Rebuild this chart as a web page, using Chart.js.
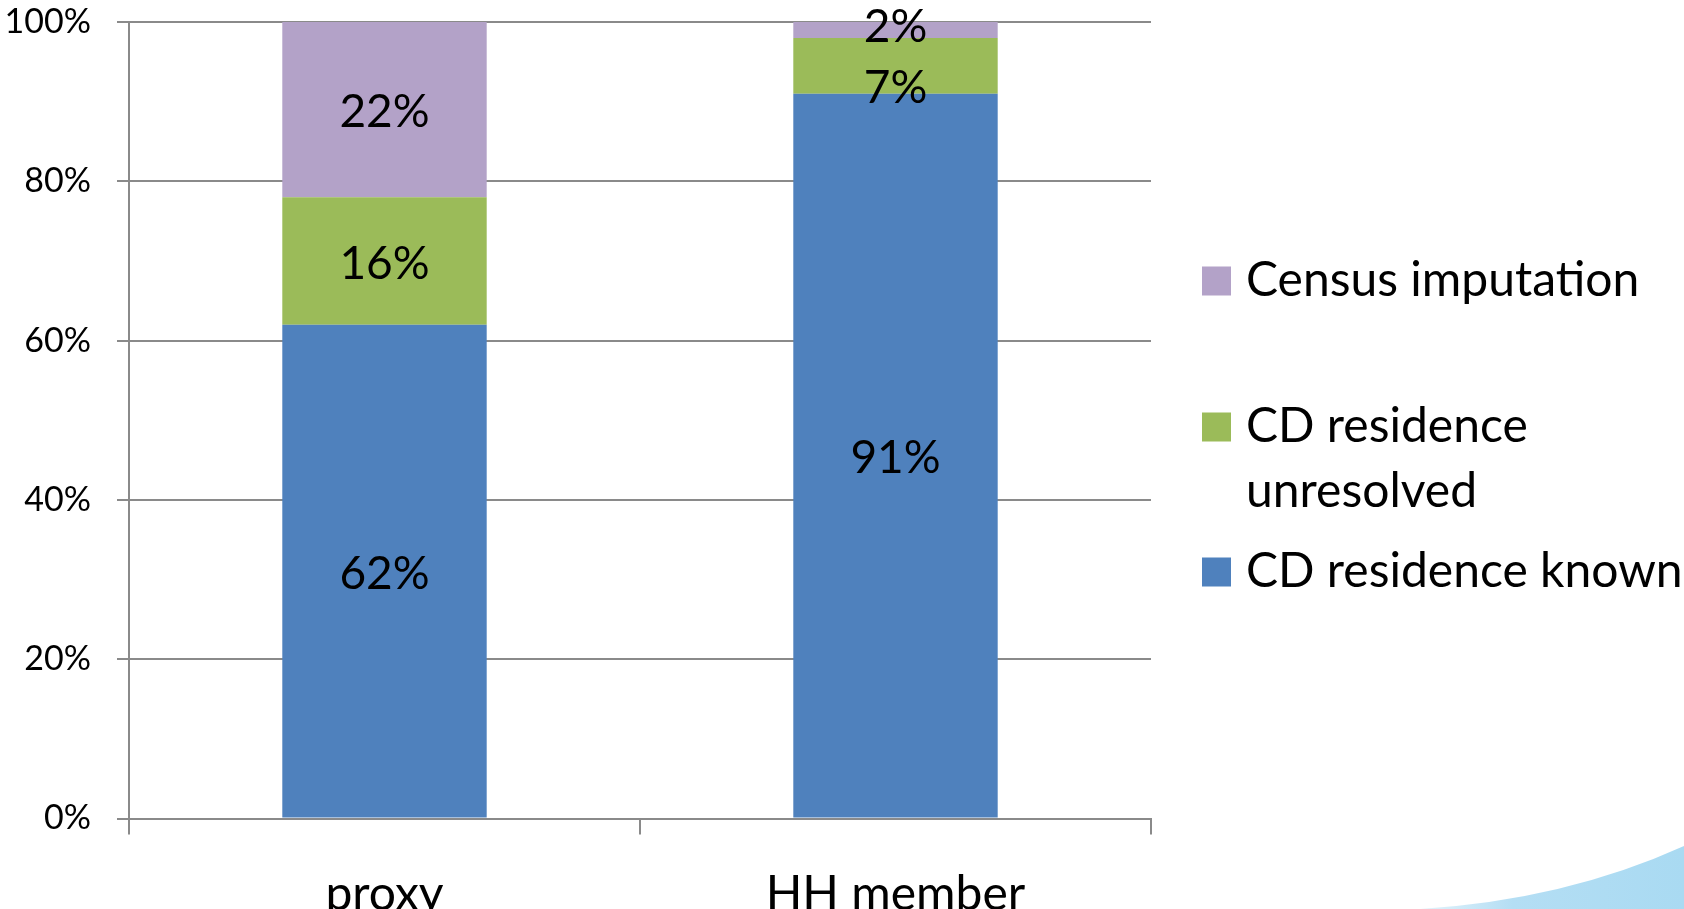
<!DOCTYPE html>
<html>
<head>
<meta charset="utf-8">
<title>CD residence by respondent type</title>
<script src="https://cdn.jsdelivr.net/npm/chart.js@4.4.1/dist/chart.umd.min.js"></script>
<style>
  html, body { margin: 0; padding: 0; background: #ffffff; }
  #wrap { width: 1684px; height: 909px; overflow: hidden; }
</style>
</head>
<body>
<div id="wrap"><canvas id="chart" width="1684" height="909"></canvas></div>
<script>
// Datos del gráfico
const categories = ['proxy', 'HH member'];
const seriesNames = ['CD residence known', 'CD residence unresolved', 'Census imputation'];
const knownValues = [62, 91];
const unresolvedValues = [16, 7];
const imputationValues = [22, 2];
const yTicks = [0, 20, 40, 60, 80, 100];

const colors = ['#4F81BD', '#9BBB59', '#B3A2C8'];
const FONT = 'Lato, "Open Sans", "Liberation Sans", sans-serif';
const gridColor = '#8a8a8a';

// Etiquetas de datos centradas en cada segmento (separadas si se solapan)
const dataLabels = {
    id: 'dataLabels',
    afterDatasetsDraw(chart) {
        const ctx = chart.ctx;
        const minGap = 61;
        ctx.save();
        ctx.font = '46px ' + FONT;
        ctx.fillStyle = '#000000';
        ctx.textAlign = 'center';
        ctx.textBaseline = 'middle';
        const nCat = chart.data.labels.length;
        for (let j = 0; j < nCat; j++) {
            // recoger etiquetas de esta columna, de arriba hacia abajo
            const items = [];
            chart.data.datasets.forEach((ds, i) => {
                const bar = chart.getDatasetMeta(i).data[j];
                items.push({ text: ds.data[j] + '%', x: bar.x, y: (bar.y + bar.base) / 2 + 3 });
            });
            items.sort((a, b) => a.y - b.y);
            for (let k = 1; k < items.length; k++) {
                const gap = items[k].y - items[k - 1].y;
                if (gap < minGap) {
                    const d = minGap - gap;
                    items[k - 1].y -= d * 0.25;
                    items[k].y += d * 0.75;
                }
            }
            items.forEach(it => ctx.fillText(it.text, it.x, it.y));
        }
        ctx.restore();
    }
};

// Leyenda a la derecha, con texto en varias líneas
const sideLegend = {
    id: 'sideLegend',
    afterDraw(chart) {
        const ctx = chart.ctx;
        const rows = [572, 427, 281]; // known, unresolved, imputation
        const boxX = 1202, boxSize = 29, textX = 1246, lineH = 65, maxW = 450;
        ctx.save();
        ctx.font = '48px ' + FONT;
        ctx.textBaseline = 'middle';
        ctx.textAlign = 'left';
        chart.data.datasets.forEach((ds, i) => {
            const y = rows[i];
            ctx.fillStyle = ds.backgroundColor;
            ctx.fillRect(boxX, y - boxSize / 2, boxSize, boxSize);
            // partir el texto si es muy ancho
            const words = ds.label.split(' ');
            const lines = [];
            let line = '';
            words.forEach(w => {
                const test = line ? line + ' ' + w : w;
                if (ctx.measureText(test).width > maxW && line) {
                    lines.push(line);
                    line = w;
                } else {
                    line = test;
                }
            });
            lines.push(line);
            ctx.fillStyle = '#000000';
            lines.forEach((l, k) => ctx.fillText(l, textX, y + k * lineH));
        });
        ctx.restore();
    }
};

// Curva azul decorativa en la esquina inferior derecha
const swoosh = {
    id: 'swoosh',
    beforeDraw(chart) {
        const ctx = chart.ctx;
        ctx.save();
        const g = ctx.createLinearGradient(1420, 0, 1684, 0);
        g.addColorStop(0, '#e4f3fb');
        g.addColorStop(0.35, '#b4def4');
        g.addColorStop(1, '#a9daf2');
        ctx.fillStyle = g;
        ctx.beginPath();
        ctx.moveTo(1420, 909);
        ctx.quadraticCurveTo(1565, 900, 1684, 846);
        ctx.lineTo(1684, 909);
        ctx.closePath();
        ctx.fill();
        ctx.restore();
    }
};

const ctx = document.getElementById('chart').getContext('2d');
new Chart(ctx, {
    type: 'bar',
    data: {
        labels: categories,
        datasets: [
            { label: seriesNames[0], data: knownValues, backgroundColor: colors[0] },
            { label: seriesNames[1], data: unresolvedValues, backgroundColor: colors[1] },
            { label: seriesNames[2], data: imputationValues, backgroundColor: colors[2] }
        ]
    },
    options: {
        responsive: false,
        animation: false,
        devicePixelRatio: 1,
        layout: { padding: { left: 0, top: 22, right: 533, bottom: 0 } },
        datasets: {
            bar: { categoryPercentage: 1.0, barPercentage: 0.4, borderWidth: 0 }
        },
        plugins: {
            legend: { display: false },
            tooltip: { enabled: false },
            title: { display: false }
        },
        scales: {
            x: {
                stacked: true,
                afterFit: function(scale) {
                    scale.height = 90.5;
                    scale.paddingLeft = 0;
                    scale.paddingRight = 0;
                },
                grid: {
                    display: true,
                    offset: true,
                    drawOnChartArea: false,
                    drawTicks: true,
                    tickLength: 16,
                    color: gridColor,
                    lineWidth: 2
                },
                border: { display: true, color: gridColor, width: 2 },
                ticks: {
                    color: '#000000',
                    font: { family: FONT, size: 48 },
                    padding: 31,
                    maxRotation: 0
                }
            },
            y: {
                stacked: true,
                min: 0,
                max: 100,
                afterFit: function(scale) {
                    scale.width = 129;
                    scale.paddingTop = 0;
                    scale.paddingBottom = 0;
                },
                afterBuildTicks: function(scale) {
                    scale.ticks = yTicks.map(v => ({ value: v }));
                },
                grid: {
                    color: gridColor,
                    lineWidth: 2,
                    tickLength: 12
                },
                border: { display: true, color: gridColor, width: 2 },
                ticks: {
                    color: '#000000',
                    font: { family: FONT, size: 34 },
                    padding: 26,
                    callback: function(value) { return value + '%'; }
                }
            }
        }
    },
    plugins: [swoosh, dataLabels, sideLegend]
});
</script>
</body>
</html>
